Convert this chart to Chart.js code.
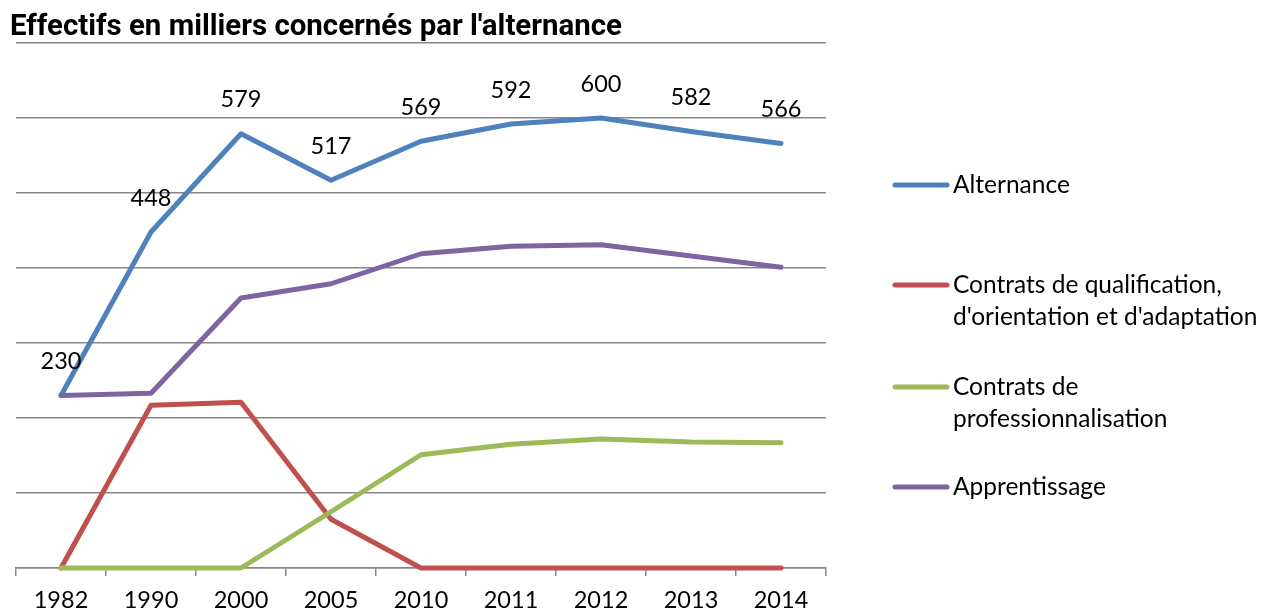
<!DOCTYPE html>
<html>
<head>
<meta charset="utf-8">
<script src="https://cdn.jsdelivr.net/npm/chart.js@4"></script>
<style>
  html, body { margin: 0; padding: 0; background: #fff; }
  #wrap { width: 1267px; height: 610px; position: relative; }
</style>
</head>
<body>
<div id="wrap"><canvas id="myChart"></canvas></div>
<script>
// data (milliers)
const years = ['1982', '1990', '2000', '2005', '2010', '2011', '2012', '2013', '2014'];
const alternance = [230, 448, 579, 517, 569, 592, 600, 582, 566];
const qualification = [0, 217, 221, 65, 0, 0, 0, 0, 0];
const professionnalisation = [0, 0, 0, 75, 151, 165, 172, 168, 167];
const apprentissage = [230, 233, 360, 379, 419, 429, 431, 416, 401];

const chartTitle = "Effectifs en milliers concernés par l'alternance";
const seriesNames = [
  ['Alternance'],
  ['Contrats de qualification,', "d'orientation et d'adaptation"],
  ['Contrats de', 'professionnalisation'],
  ['Apprentissage']
];
const seriesColors = ['#4F81BD', '#C0504D', '#9BBB59', '#8064A2'];

const FONT = 'Lato, "Open Sans", sans-serif';
const GRID = '#868686';

// title, top left
const titlePlugin = {
  id: 'titleText',
  afterDraw(chart) {
    const c = chart.ctx;
    c.save();
    c.font = 'bold 30px Roboto, sans-serif';
    c.fillStyle = '#000';
    c.textBaseline = 'alphabetic';
    const w = c.measureText(chartTitle).width;
    c.translate(10, 35);
    c.scale(612 / w, 1);
    c.fillText(chartTitle, 0, 0);
    c.restore();
  }
};

// values above the Alternance line
const valueLabels = {
  id: 'valueLabels',
  afterDatasetsDraw(chart) {
    const c = chart.ctx;
    const meta = chart.getDatasetMeta(0);
    c.save();
    c.font = '23.5px ' + FONT;
    c.fillStyle = '#000';
    c.textAlign = 'center';
    c.textBaseline = 'middle';
    meta.data.forEach((pt, i) => {
      c.fillText(String(alternance[i]), pt.x, pt.y - 34);
    });
    c.restore();
  }
};

// legend on the right side
const sideLegend = {
  id: 'sideLegend',
  afterDraw(chart) {
    const c = chart.ctx;
    const rows = [185, 285, 387, 487];
    c.save();
    c.font = '24.5px ' + FONT;
    c.textBaseline = 'middle';
    c.textAlign = 'left';
    chart.data.datasets.forEach((ds, i) => {
      const y = rows[i];
      c.strokeStyle = ds.borderColor;
      c.lineWidth = 5;
      c.lineCap = 'round';
      c.beginPath();
      c.moveTo(895, y);
      c.lineTo(947, y);
      c.stroke();
      c.fillStyle = '#000';
      ds.label.forEach((t, k) => c.fillText(t, 953, y + k * 32));
    });
    c.restore();
  }
};

const ctx = document.getElementById('myChart').getContext('2d');
const series = [alternance, qualification, professionnalisation, apprentissage];

const config = {
  type: 'line',
  data: {
    labels: years,
    datasets: series.map((vals, i) => ({
      label: seriesNames[i],
      data: vals,
      borderColor: seriesColors[i],
      backgroundColor: seriesColors[i],
      borderWidth: 5,
      pointRadius: 0,
      pointHoverRadius: 0,
      tension: 0,
      borderCapStyle: 'round',
      borderJoinStyle: 'round',
      clip: false,
      order: 4 - i
    }))
  },
  options: {
    responsive: true,
    maintainAspectRatio: false,
    animation: false,
    layout: { padding: { left: 16, right: 441, top: 43, bottom: 0 } },
    plugins: {
      legend: { display: false },
      title: { display: false },
      tooltip: { enabled: false }
    },
    scales: {
      x: {
        type: 'category',
        offset: true,
        grid: {
          offset: true,
          drawOnChartArea: false,
          drawTicks: true,
          tickLength: 8,
          color: GRID,
          lineWidth: 1.5
        },
        border: { display: true, color: GRID, width: 1.5 },
        ticks: {
          color: '#000',
          font: { family: FONT, size: 23.5 },
          padding: 10,
          maxRotation: 0,
          autoSkip: false
        },
        afterFit(scale) { scale.height = 42; }
      },
      y: {
        min: 0,
        max: 700,
        ticks: { display: false, stepSize: 100 },
        grid: { color: GRID, lineWidth: 1.5, drawTicks: false },
        border: { display: false },
        afterFit(scale) { scale.width = 0; }
      }
    }
  },
  plugins: [titlePlugin, valueLabels, sideLegend]
};

//DRAW CHART
var myChart = new Chart(ctx, config);
</script>
</body>
</html>
